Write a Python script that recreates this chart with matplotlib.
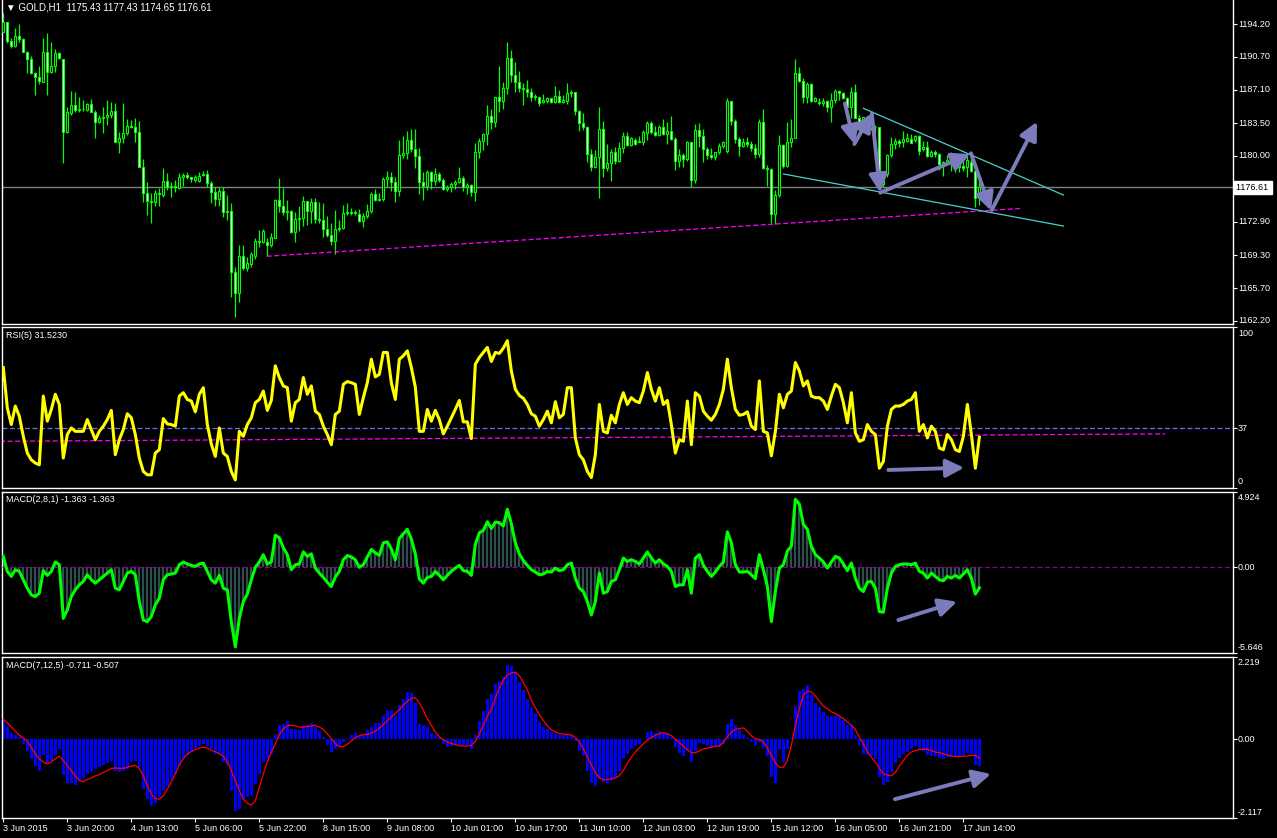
import numpy as np
import matplotlib
matplotlib.use("Agg")
import matplotlib.pyplot as plt

plt.rcParams['font.family'] = ['Liberation Sans', 'DejaVu Sans']

# GOLD H1 candles (open, high, low, close)
opens = [1193.38, 1194.38, 1192.40, 1191.87, 1192.91, 1192.55, 1191.22, 1190.40, 1188.89, 1188.45,
         1187.99, 1191.15, 1189.07, 1189.68, 1191.04, 1190.40, 1182.60, 1184.58, 1185.47, 1184.93,
         1185.04, 1184.93, 1185.54, 1184.75, 1183.68, 1184.11, 1184.22, 1184.40, 1184.83, 1181.52,
         1181.95, 1182.42, 1183.25, 1183.14, 1182.53, 1178.83, 1176.03, 1175.16, 1174.99, 1175.95,
         1175.78, 1177.28, 1176.67, 1176.74, 1176.56, 1177.68, 1177.93, 1177.68, 1177.39, 1177.32,
         1177.93, 1178.04, 1177.10, 1176.13, 1175.34, 1176.24, 1173.98, 1174.05, 1167.51, 1165.25,
         1169.20, 1167.94, 1168.34, 1169.24, 1170.82, 1170.67, 1170.67, 1170.39, 1171.18, 1175.23,
         1174.63, 1173.91, 1174.05, 1171.82, 1173.19, 1173.26, 1175.09, 1174.09, 1175.06, 1173.19,
         1173.12, 1172.11, 1171.46, 1170.86, 1172.08, 1172.26, 1173.80, 1173.94, 1173.80, 1173.69,
         1173.01, 1173.51, 1174.09, 1175.85, 1175.23, 1175.34, 1177.46, 1177.75, 1177.14, 1176.24,
         1180.09, 1180.34, 1181.70, 1180.73, 1180.01, 1177.21, 1176.78, 1178.29, 1177.32, 1178.04,
         1177.39, 1176.38, 1176.67, 1176.96, 1177.21, 1177.57, 1176.67, 1176.82, 1176.06, 1180.37,
         1181.63, 1182.31, 1184.32, 1183.61, 1186.30, 1185.94, 1187.27, 1190.50, 1188.70, 1187.99,
         1187.34, 1187.20, 1186.91, 1186.37, 1186.30, 1185.83, 1185.94, 1186.19, 1185.83, 1186.44,
         1185.83, 1185.90, 1186.73, 1186.84, 1184.83, 1183.50, 1183.14, 1180.19, 1178.83, 1179.83,
         1182.85, 1178.72, 1179.19, 1180.37, 1179.44, 1180.80, 1182.13, 1181.16, 1181.70, 1181.52,
         1181.52, 1182.42, 1183.50, 1182.60, 1182.24, 1183.07, 1182.35, 1182.67, 1181.81, 1179.48,
         1180.09, 1179.62, 1181.45, 1177.39, 1182.78, 1182.17, 1180.73, 1180.09, 1179.83, 1180.37,
         1181.05, 1180.55, 1185.90, 1183.79, 1181.77, 1181.09, 1181.52, 1181.27, 1180.80, 1180.19,
         1183.61, 1178.65, 1178.58, 1173.69, 1175.77, 1181.16, 1178.94, 1181.52, 1181.95, 1188.96,
         1188.10, 1186.37, 1187.70, 1185.94, 1185.83, 1185.65, 1185.94, 1185.22, 1186.01, 1186.98,
         1186.80, 1186.26, 1185.22, 1186.91, 1184.11, 1183.14, 1183.25, 1182.96, 1183.14, 1183.07,
         1176.96, 1178.04, 1180.09, 1181.23, 1181.59, 1181.52, 1181.59, 1181.77, 1181.70, 1182.13,
         1180.73, 1180.98, 1180.01, 1180.44, 1180.19, 1179.12, 1179.12, 1179.44, 1179.19, 1178.83,
         1178.94, 1178.83, 1179.37, 1178.40, 1175.43]
highs = [1195.35, 1194.45, 1192.66, 1193.73, 1194.20, 1192.66, 1191.33, 1190.76, 1189.07, 1189.68,
         1192.66, 1193.20, 1192.30, 1191.47, 1191.22, 1190.45, 1185.30, 1186.98, 1186.84, 1186.37,
         1186.01, 1185.65, 1186.12, 1184.93, 1184.40, 1185.30, 1186.01, 1185.83, 1185.73, 1182.60,
         1185.65, 1183.93, 1183.86, 1184.04, 1183.75, 1179.65, 1177.21, 1176.03, 1176.31, 1176.49,
         1178.65, 1178.18, 1177.21, 1177.39, 1178.11, 1178.11, 1178.29, 1177.75, 1177.93, 1178.29,
         1178.40, 1178.47, 1177.28, 1176.67, 1176.60, 1176.67, 1175.77, 1174.88, 1168.05, 1170.39,
         1170.39, 1169.06, 1169.60, 1171.10, 1172.00, 1172.11, 1171.10, 1171.64, 1175.31, 1177.57,
         1176.56, 1175.23, 1174.16, 1173.91, 1174.59, 1175.67, 1175.13, 1175.42, 1175.42, 1174.98,
         1174.87, 1173.51, 1172.72, 1174.16, 1173.08, 1174.70, 1174.87, 1174.34, 1174.16, 1174.23,
         1173.80, 1174.80, 1176.06, 1176.38, 1175.95, 1177.75, 1178.36, 1178.29, 1177.75, 1181.70,
         1182.13, 1182.67, 1182.85, 1182.85, 1180.80, 1178.29, 1178.47, 1178.40, 1178.65, 1178.29,
         1177.57, 1176.85, 1177.21, 1177.39, 1178.76, 1177.86, 1177.03, 1176.92, 1181.34, 1181.88,
         1182.49, 1185.47, 1185.04, 1186.37, 1189.68, 1187.92, 1192.30, 1191.40, 1190.14, 1189.14,
         1187.88, 1188.17, 1187.27, 1186.62, 1186.37, 1186.62, 1186.37, 1186.26, 1187.52, 1187.09,
         1186.55, 1187.81, 1187.09, 1186.91, 1184.93, 1184.65, 1183.21, 1180.70, 1180.62, 1185.22,
         1183.75, 1181.27, 1180.73, 1180.91, 1181.45, 1182.60, 1182.53, 1182.06, 1181.95, 1182.13,
         1182.78, 1183.79, 1183.75, 1183.21, 1183.32, 1183.96, 1183.68, 1184.29, 1182.06, 1180.70,
         1180.26, 1181.59, 1181.52, 1183.43, 1183.50, 1182.89, 1180.98, 1180.80, 1180.44, 1181.34,
         1181.59, 1186.19, 1185.95, 1183.93, 1182.06, 1181.88, 1181.99, 1181.63, 1181.23, 1183.96,
         1185.04, 1179.01, 1178.72, 1176.31, 1182.24, 1181.27, 1183.61, 1183.96, 1190.40, 1189.60,
         1188.35, 1187.99, 1187.88, 1186.37, 1186.19, 1186.19, 1186.01, 1186.73, 1187.16, 1187.09,
         1186.91, 1186.37, 1187.38, 1187.74, 1184.40, 1184.22, 1183.57, 1184.04, 1183.32, 1183.15,
         1178.11, 1180.19, 1182.06, 1181.88, 1181.77, 1182.71, 1182.49, 1182.35, 1182.24, 1182.24,
         1181.63, 1181.59, 1180.62, 1180.62, 1180.26, 1179.48, 1180.09, 1180.44, 1179.62, 1179.62,
         1179.55, 1180.19, 1180.01, 1178.47, 1177.43]
lows = [1193.38, 1192.12, 1191.58, 1191.76, 1192.30, 1191.15, 1188.96, 1188.81, 1186.55, 1187.70,
        1187.92, 1186.55, 1188.89, 1189.07, 1190.40, 1179.26, 1182.42, 1184.40, 1184.75, 1184.75,
        1184.86, 1184.86, 1184.68, 1181.88, 1183.50, 1182.42, 1183.32, 1184.04, 1181.45, 1180.34,
        1181.34, 1182.24, 1182.96, 1181.52, 1178.75, 1175.06, 1173.62, 1172.79, 1174.63, 1174.63,
        1175.60, 1176.31, 1175.60, 1176.13, 1176.42, 1176.74, 1177.50, 1177.21, 1177.21, 1177.14,
        1177.86, 1176.67, 1174.88, 1174.63, 1174.63, 1173.44, 1173.08, 1164.82, 1162.66, 1164.28,
        1167.69, 1167.62, 1168.05, 1168.88, 1170.21, 1170.56, 1169.20, 1170.21, 1171.10, 1173.91,
        1173.62, 1173.08, 1171.72, 1170.74, 1171.89, 1172.43, 1172.54, 1172.72, 1172.79, 1172.79,
        1171.28, 1171.28, 1170.39, 1169.42, 1171.89, 1172.08, 1173.62, 1173.62, 1173.62, 1172.90,
        1172.36, 1173.26, 1173.80, 1175.13, 1175.13, 1175.13, 1176.67, 1176.24, 1175.06, 1175.67,
        1179.73, 1179.66, 1180.44, 1178.65, 1175.88, 1175.23, 1176.31, 1176.42, 1176.85, 1177.21,
        1176.31, 1176.24, 1176.13, 1176.42, 1177.10, 1176.24, 1175.88, 1175.67, 1175.16, 1179.80,
        1180.62, 1181.16, 1182.89, 1183.07, 1184.75, 1185.01, 1186.66, 1187.99, 1186.91, 1186.91,
        1185.47, 1186.37, 1185.94, 1186.01, 1185.37, 1185.73, 1185.65, 1185.65, 1185.73, 1185.65,
        1185.65, 1185.58, 1186.30, 1184.40, 1182.67, 1182.78, 1179.37, 1178.40, 1178.65, 1175.49,
        1177.75, 1178.36, 1177.32, 1179.12, 1179.35, 1180.34, 1181.05, 1181.09, 1181.20, 1181.45,
        1181.16, 1181.70, 1182.31, 1182.15, 1182.13, 1182.24, 1181.27, 1181.70, 1178.47, 1178.83,
        1178.83, 1179.44, 1176.60, 1177.10, 1180.98, 1179.37, 1179.66, 1179.62, 1179.55, 1180.19,
        1180.80, 1180.34, 1183.32, 1181.41, 1180.01, 1180.98, 1180.98, 1180.55, 1179.73, 1179.91,
        1178.58, 1176.78, 1172.72, 1172.61, 1175.59, 1178.65, 1178.83, 1180.98, 1181.88, 1187.99,
        1185.65, 1185.65, 1185.83, 1185.76, 1185.47, 1185.37, 1184.75, 1183.68, 1185.65, 1186.01,
        1186.12, 1185.11, 1184.04, 1184.05, 1182.42, 1182.78, 1182.42, 1182.78, 1182.42, 1176.67,
        1176.67, 1177.75, 1179.83, 1180.70, 1180.98, 1180.98, 1181.52, 1181.34, 1181.52, 1180.09,
        1180.55, 1179.91, 1179.91, 1179.91, 1178.47, 1177.82, 1179.01, 1178.40, 1178.29, 1178.29,
        1178.40, 1177.75, 1178.29, 1174.52, 1174.65]
closes = [1194.38, 1192.40, 1191.87, 1192.91, 1192.55, 1191.22, 1190.40, 1188.89, 1188.45, 1188.10,
          1191.15, 1189.07, 1189.68, 1191.04, 1190.50, 1182.60, 1184.68, 1185.47, 1184.93, 1185.04,
          1185.00, 1185.54, 1184.75, 1183.68, 1184.11, 1184.22, 1184.40, 1184.83, 1181.52, 1181.95,
          1182.42, 1183.25, 1183.14, 1182.53, 1178.83, 1176.03, 1175.16, 1175.06, 1175.95, 1175.85,
          1177.28, 1176.67, 1176.74, 1176.67, 1177.68, 1177.93, 1177.75, 1177.50, 1177.68, 1177.86,
          1178.04, 1177.10, 1176.13, 1175.34, 1176.24, 1173.98, 1174.05, 1167.51, 1165.25, 1169.20,
          1167.94, 1168.48, 1169.42, 1170.82, 1170.67, 1171.89, 1170.39, 1171.21, 1175.23, 1174.63,
          1173.91, 1174.05, 1171.82, 1173.19, 1173.26, 1175.09, 1174.09, 1175.06, 1173.19, 1173.12,
          1172.11, 1171.46, 1170.86, 1172.08, 1172.26, 1173.80, 1173.94, 1173.80, 1173.94, 1173.01,
          1173.51, 1174.09, 1175.85, 1175.23, 1175.34, 1177.46, 1177.75, 1177.14, 1176.24, 1180.09,
          1180.34, 1181.70, 1180.73, 1180.01, 1177.21, 1176.78, 1178.29, 1177.32, 1178.04, 1177.39,
          1176.38, 1176.67, 1176.96, 1177.21, 1177.57, 1176.67, 1176.82, 1176.06, 1180.37, 1181.63,
          1182.31, 1184.32, 1183.61, 1186.30, 1185.94, 1187.27, 1190.50, 1188.70, 1187.99, 1187.34,
          1187.20, 1186.91, 1186.37, 1186.44, 1185.73, 1186.01, 1186.19, 1185.83, 1186.44, 1185.83,
          1186.01, 1186.73, 1186.84, 1184.83, 1183.50, 1183.14, 1180.19, 1178.83, 1179.83, 1182.85,
          1178.72, 1179.19, 1180.37, 1179.44, 1180.80, 1182.13, 1181.16, 1181.95, 1181.27, 1181.63,
          1182.53, 1183.50, 1182.60, 1182.24, 1183.07, 1182.31, 1182.67, 1181.81, 1179.48, 1180.09,
          1179.62, 1181.52, 1177.39, 1182.78, 1182.17, 1180.73, 1180.09, 1179.83, 1180.37, 1181.05,
          1181.45, 1185.90, 1183.79, 1181.77, 1181.09, 1181.52, 1181.27, 1180.80, 1180.19, 1183.61,
          1178.65, 1178.58, 1173.69, 1175.77, 1181.16, 1178.94, 1181.52, 1181.95, 1188.96, 1188.10,
          1186.37, 1187.70, 1185.94, 1186.19, 1185.65, 1185.94, 1185.22, 1186.01, 1186.98, 1186.80,
          1186.26, 1185.22, 1186.91, 1184.11, 1183.14, 1184.15, 1182.96, 1183.75, 1183.07, 1176.96,
          1178.04, 1180.09, 1181.23, 1181.59, 1181.34, 1181.77, 1181.95, 1181.41, 1182.13, 1180.55,
          1180.98, 1180.01, 1180.44, 1180.19, 1179.12, 1179.37, 1179.55, 1179.19, 1178.65, 1179.01,
          1178.65, 1179.55, 1178.40, 1175.49, 1176.61]

rsi5 = [74.8, 49.8, 39.4, 50.9, 44.6, 32.1, 21.7, 17.5, 15.5, 14.4, 57.1, 41.5, 48.8, 58.2, 51.9,
        18.6, 33.2, 37.3, 35.2, 35.2, 35.2, 42.5, 36.3, 30.0, 35.2, 38.4, 42.5, 48.2, 20.7, 30.0,
        36.3, 46.1, 43.6, 33.2, 18.6, 10.3, 8.2, 8.2, 21.7, 23.8, 43.1, 39.8, 39.4, 38.4, 57.1,
        59.2, 55.0, 54.0, 47.3, 58.2, 62.3, 39.4, 27.3, 19.6, 37.3, 21.7, 19.6, 10.3, 5.0, 35.2,
        32.1, 39.4, 43.6, 53.0, 55.0, 60.2, 48.2, 54.4, 75.9, 68.6, 63.4, 62.3, 41.5, 53.0, 55.0,
        68.6, 58.2, 63.4, 47.7, 45.7, 38.4, 33.2, 26.9, 45.7, 47.7, 64.4, 66.1, 65.4, 64.4, 45.7,
        56.1, 65.4, 80.0, 69.0, 70.6, 84.2, 84.2, 65.4, 55.0, 80.0, 82.1, 85.2, 74.8, 62.7, 35.2,
        35.2, 48.8, 41.5, 48.2, 42.5, 33.6, 38.4, 43.6, 48.8, 54.4, 41.1, 41.1, 30.7, 76.9, 81.1,
        84.2, 87.3, 78.6, 84.2, 83.6, 86.9, 91.5, 72.7, 61.3, 57.5, 55.7, 51.9, 46.1, 44.6, 38.4,
        42.5, 47.7, 40.5, 53.6, 43.6, 45.7, 62.3, 62.3, 31.1, 20.7, 17.5, 10.3, 6.5, 20.7, 51.9,
        35.2, 34.2, 45.2, 40.5, 51.9, 59.2, 51.9, 56.1, 54.0, 53.0, 60.2, 71.7, 61.3, 54.0, 62.3,
        51.9, 54.4, 39.4, 21.7, 30.0, 29.0, 54.0, 26.9, 59.2, 57.1, 47.7, 44.6, 42.1, 45.7, 51.9,
        61.3, 80.0, 62.3, 48.8, 45.2, 45.7, 47.3, 38.4, 36.3, 66.5, 35.2, 34.2, 20.0, 35.2, 58.2,
        49.8, 58.2, 60.2, 77.9, 72.7, 63.4, 66.5, 57.1, 56.1, 56.1, 54.0, 48.8, 57.1, 64.4, 62.3,
        53.0, 40.5, 59.2, 34.2, 29.0, 30.0, 39.4, 35.2, 33.2, 12.3, 16.5, 38.4, 48.8, 50.9, 50.9,
        51.9, 54.0, 55.0, 59.2, 35.2, 39.4, 31.1, 38.4, 35.2, 24.8, 23.8, 33.2, 30.0, 23.8, 22.7,
        32.1, 51.9, 33.2, 12.3, 31.52]

# MACD(2,8,1): main and signal are the same line
macd_fast = [0.70, -0.29, -0.62, -0.18, -0.29, -0.84, -1.39, -1.83, -1.94, -1.72, -0.24, -0.55, -0.29,
             0.33, 0.15, -3.37, -2.82, -1.94, -1.50, -1.17, -0.95, -0.51, -0.84, -1.06, -0.84, -0.62,
             -0.40, -0.18, -1.39, -1.50, -0.95, -0.40, -0.29, -0.51, -2.27, -3.48, -3.59, -3.26, -2.49,
             -2.05, -0.84, -0.51, -0.46, -0.40, 0.15, 0.33, 0.20, 0.11, 0.04, 0.20, 0.26, -0.29, -0.84,
             -1.06, -0.55, -1.39, -1.50, -3.59, -5.24, -3.37, -2.27, -1.78, -0.84, -0.02, 0.33, 0.81,
             0.20, 0.33, 2.09, 1.92, 1.26, 0.81, -0.18, 0.15, 0.20, 0.99, 0.70, 0.86, -0.07, -0.40,
             -0.68, -1.01, -1.28, -0.66, -0.29, 0.48, 0.75, 0.66, 0.48, -0.02, 0.15, 0.66, 1.15, 0.93,
             0.77, 1.59, 1.65, 1.19, 0.48, 1.87, 2.18, 2.47, 1.85, 0.86, -0.79, -1.06, -0.68, -0.62,
             -0.29, -0.55, -0.84, -0.55, -0.29, -0.07, 0.11, -0.24, -0.29, -0.55, 1.48, 2.25, 2.40,
             2.97, 2.53, 2.95, 2.91, 2.69, 3.79, 2.84, 1.59, 0.86, 0.42, 0.11, -0.18, -0.33, -0.51,
             -0.46, -0.29, -0.33, -0.07, -0.24, -0.18, 0.15, 0.26, -0.73, -1.39, -1.61, -2.27, -3.15,
             -2.27, -0.40, -1.72, -1.61, -0.95, -0.84, -0.18, 0.59, 0.37, 0.48, 0.37, 0.20, 0.59, 0.99,
             0.59, 0.26, 0.48, 0.20, 0.04, -0.29, -1.28, -1.17, -1.17, -0.18, -1.72, 0.59, 0.81, 0.11,
             -0.29, -0.62, -0.33, 0.04, 0.33, 2.31, 1.59, 0.15, -0.33, -0.33, -0.29, -0.51, -0.77,
             0.81, -0.18, -1.28, -3.59, -1.61, -0.07, 0.15, 1.04, 1.37, 4.45, 4.12, 2.80, 2.47, 1.37,
             0.81, 0.59, 0.33, -0.07, 0.33, 0.70, 0.59, 0.20, -0.24, 0.26, -0.73, -1.39, -1.61, -0.99,
             -0.95, -1.39, -2.93, -2.97, -1.39, -0.40, 0.04, 0.15, 0.20, 0.20, 0.15, 0.26, -0.29,
             -0.40, -0.73, -0.40, -0.62, -0.84, -0.90, -0.62, -0.73, -0.55, -0.73, -0.46, -0.18,
             -0.73, -1.78, -1.363]

# MACD(7,12,5) histogram and signal
macd_hist = [0.56, 0.33, 0.18, 0.13, 0.06, -0.12, -0.30, -0.54, -0.72, -0.84, -0.43, -0.66, -0.57,
             -0.42, -0.27, -0.96, -1.17, -1.17, -1.23, -1.11, -1.05, -0.93, -0.89, -0.81, -0.75,
             -0.69, -0.63, -0.57, -0.84, -0.89, -0.84, -0.79, -0.61, -0.57, -0.75, -1.34, -1.61,
             -1.79, -1.70, -1.56, -1.38, -1.25, -1.08, -0.93, -0.72, -0.52, -0.43, -0.34, -0.23,
             -0.18, -0.12, -0.18, -0.25, -0.39, -0.39, -0.61, -0.70, -1.38, -1.92, -1.88, -1.61,
             -1.56, -1.52, -1.20, -0.93, -0.61, -0.52, -0.39, 0.11, 0.38, 0.42, 0.49, 0.27, 0.27,
             0.24, 0.40, 0.40, 0.45, 0.33, 0.22, 0.06, -0.14, -0.33, -0.27, -0.18, -0.07, 0.04, 0.13,
             0.18, 0.13, 0.13, 0.24, 0.33, 0.44, 0.44, 0.63, 0.79, 0.79, 0.65, 0.92, 1.08, 1.28, 1.26,
             0.97, 0.42, 0.40, 0.33, 0.18, 0.13, 0.06, -0.12, -0.21, -0.18, -0.14, -0.14, -0.14,
             -0.14, -0.25, 0.13, 0.49, 0.76, 1.10, 1.21, 1.48, 1.57, 1.69, 2.01, 1.99, 1.81, 1.54,
             1.33, 1.10, 0.88, 0.70, 0.47, 0.33, 0.27, 0.20, 0.15, 0.11, 0.11, 0.15, 0.13, -0.05,
             -0.30, -0.45, -0.84, -1.17, -1.26, -1.07, -1.16, -1.17, -1.11, -1.05, -0.84, -0.52,
             -0.39, -0.27, -0.18, -0.12, 0.00, 0.20, 0.22, 0.18, 0.22, 0.18, 0.15, 0.06, -0.21,
             -0.36, -0.45, -0.30, -0.61, -0.30, -0.09, -0.12, -0.18, -0.23, -0.21, -0.18, -0.12,
             0.42, 0.54, 0.38, 0.24, 0.13, 0.04, -0.07, -0.18, -0.07, -0.23, -0.45, -1.02, -1.17,
             -0.25, -0.60, -0.25, 0.04, 0.90, 1.30, 1.37, 1.46, 1.19, 0.99, 0.88, 0.74, 0.63, 0.63,
             0.63, 0.61, 0.51, 0.38, 0.38, 0.13, -0.14, -0.39, -0.43, -0.45, -0.52, -1.02, -1.23,
             -1.14, -0.87, -0.63, -0.51, -0.39, -0.33, -0.25, -0.18, -0.25, -0.30, -0.42, -0.45,
             -0.45, -0.51, -0.52, -0.48, -0.48, -0.45, -0.45, -0.42, -0.36, -0.39, -0.69, -0.711]
macd_signal = [0.54, 0.45, 0.33, 0.22, 0.11, 0.04, -0.05, -0.23, -0.39, -0.52, -0.61, -0.66, -0.61,
               -0.52, -0.45, -0.57, -0.70, -0.84, -0.98, -1.11, -1.14, -1.08, -1.04, -0.98, -0.95,
               -0.89, -0.84, -0.78, -0.77, -0.78, -0.78, -0.75, -0.72, -0.70, -0.78, -0.98, -1.25,
               -1.47, -1.59, -1.61, -1.52, -1.34, -1.14, -0.93, -0.69, -0.51, -0.39, -0.33, -0.27,
               -0.23, -0.21, -0.23, -0.30, -0.33, -0.39, -0.45, -0.61, -0.84, -1.11, -1.38, -1.61,
               -1.72, -1.77, -1.65, -1.29, -0.93, -0.61, -0.34, -0.12, 0.13, 0.29, 0.36, 0.38, 0.36,
               0.33, 0.33, 0.35, 0.36, 0.38, 0.33, 0.27, 0.15, 0.02, -0.12, -0.20, -0.19, -0.13,
               -0.04, 0.04, 0.10, 0.13, 0.14, 0.17, 0.22, 0.30, 0.40, 0.51, 0.61, 0.70, 0.80, 0.92,
               1.03, 1.10, 1.12, 0.98, 0.79, 0.56, 0.38, 0.20, 0.07, -0.01, -0.07, -0.11, -0.14,
               -0.17, -0.18, -0.18, -0.16, -0.05, 0.15, 0.38, 0.63, 0.80, 1.11, 1.39, 1.60, 1.73,
               1.79, 1.81, 1.71, 1.54, 1.33, 1.06, 0.85, 0.67, 0.51, 0.36, 0.26, 0.20, 0.16, 0.14,
               0.13, 0.12, 0.05, -0.07, -0.25, -0.48, -0.69, -0.89, -1.03, -1.09, -1.08, -1.06,
               -1.04, -0.98, -0.84, -0.64, -0.48, -0.34, -0.22, -0.12, -0.02, 0.05, 0.11, 0.16, 0.18,
               0.15, 0.10, 0.01, -0.09, -0.18, -0.28, -0.36, -0.36, -0.31, -0.26, -0.23, -0.21,
               -0.18, -0.18, -0.07, 0.06, 0.20, 0.27, 0.29, 0.31, 0.22, 0.09, 0.02, 0.00, -0.07,
               -0.23, -0.43, -0.63, -0.75, -0.75, -0.57, -0.16, 0.38, 0.83, 1.19, 1.30, 1.28, 1.17,
               1.03, 0.90, 0.83, 0.74, 0.70, 0.63, 0.56, 0.47, 0.38, 0.27, 0.06, -0.12, -0.34, -0.48,
               -0.61, -0.78, -0.93, -0.96, -0.98, -0.89, -0.72, -0.57, -0.43, -0.34, -0.30, -0.27,
               -0.27, -0.27, -0.30, -0.34, -0.36, -0.39, -0.42, -0.45, -0.46, -0.46, -0.45, -0.45,
               -0.43, -0.43, -0.507]

date_labels = ["3 Jun 2015", "3 Jun 20:00", "4 Jun 13:00", "5 Jun 06:00", "5 Jun 22:00",
               "8 Jun 15:00", "9 Jun 08:00", "10 Jun 01:00", "10 Jun 17:00", "11 Jun 10:00",
               "12 Jun 03:00", "12 Jun 19:00", "15 Jun 12:00", "16 Jun 05:00", "16 Jun 21:00",
               "17 Jun 14:00"]
price_ticks = [1194.20, 1190.70, 1187.10, 1183.50, 1180.00, 1172.90, 1169.30, 1165.70, 1162.20]
last_price = 1176.61

# hand drawn objects on the chart (bar index, value)
support_line = [(65.85, 1169.17), (254.2, 1174.32)]
wedge_upper = [(215.0, 1185.12), (265.0, 1175.77)]
wedge_lower = [(195.0, 1178.04), (265.0, 1172.43)]
price_arrows = [((210.4, 1185.65), (212.75, 1181.27)),
                ((212.75, 1181.27), (217.1, 1184.58)),
                ((217.1, 1184.58), (219.2, 1176.02)),
                ((219.2, 1176.02), (241.7, 1180.19)),
                ((241.9, 1180.27), (246.9, 1174.08)),
                ((247.1, 1174.16), (258.4, 1183.67))]
rsi_arrow = ((221.25, 11.2), (240.2, 12.6))
rsi_trend = [(-0.8, 29.0), (290.4, 33.6)]
macd_fast_arrow = ((223.75, -3.48), (238.4, -2.28))
macd_slow_arrow = ((222.9, -1.61), (246.9, -0.93))

W, H = 1277, 838
fig = plt.figure(figsize=(W / 100, H / 100), dpi=100, facecolor='black')


def panel(top, bottom):
    ax = fig.add_axes([2 / W, 1 - bottom / H, 1231 / W, (bottom - top) / H])
    ax.set_facecolor('black')
    for s in ax.spines.values():
        s.set_color('white')
        s.set_linewidth(1)
    ax.set_xlim(-0.325, 307.4)
    ax.tick_params(axis='y', left=False, right=True, labelleft=False, labelright=False,
                   direction='out', length=3, width=0.8, color='white')
    ax.tick_params(axis='x', bottom=False, labelbottom=False)
    return ax


def right_label(ax, y, s, va='center'):
    ax.text(1 + 5 / 1231, y, s, transform=ax.get_yaxis_transform(), color='white',
            fontsize=6.5, ha='left', va=va)


def draw_arrow(ax, start, end):
    ax.annotate('', xy=end, xytext=start, zorder=5,
                arrowprops=dict(arrowstyle='-|>,head_length=0.9,head_width=0.45', lw=2.8,
                                color='#7c7cbc', shrinkA=0, shrinkB=0, mutation_scale=12))


ax = panel(0, 324)
ax_rsi = panel(327, 488)
ax_m1 = panel(492, 653)
ax_m2 = panel(657, 818)
ax.spines['top'].set_visible(False)

x = np.arange(len(closes))
o = np.array(opens)
c = np.array(closes)

# price candles
ax.vlines(x, lows, highs, color='#00ff00', lw=0.9, zorder=2)
fills = ['white' if cc < oo else 'black' for oo, cc in zip(o, c)]
ax.bar(x, np.abs(c - o), bottom=np.minimum(o, c), width=0.5, color=fills,
       edgecolor='#00ff00', linewidth=0.8, zorder=3)
ax.axhline(last_price, color='#808080', lw=1, zorder=1)
ax.plot(*zip(*support_line), color='#ff00ff', lw=0.9, ls=(0, (4, 2)), zorder=4)
ax.plot(*zip(*wedge_upper), color='#48d1cc', lw=0.9, zorder=4)
ax.plot(*zip(*wedge_lower), color='#48d1cc', lw=0.9, zorder=4)
for a, b in price_arrows:
    draw_arrow(ax, a, b)
ax.set_ylim(1161.87, 1196.79)
ax.set_yticks(price_ticks)
for v in price_ticks:
    right_label(ax, v, f"{v:.2f}")
ax.text(1 + 3 / 1231, last_price, f"{last_price:.2f} ", transform=ax.get_yaxis_transform(),
        color='black', fontsize=6.5, ha='left', va='center',
        bbox=dict(boxstyle='square,pad=0.2', fc='white', ec='white'))

# RSI
ax_rsi.plot(x, rsi5, color='#ffff00', lw=2.2, zorder=3)
ax_rsi.axhline(37, color='#6b6bff', lw=0.9, ls=(0, (4, 2)), zorder=2)
ax_rsi.plot(*zip(*rsi_trend), color='#ff00ff', lw=0.9, ls=(0, (4, 2)), zorder=2)
draw_arrow(ax_rsi, *rsi_arrow)
ax_rsi.set_ylim(0, 100)
ax_rsi.set_yticks([0, 37, 100])
right_label(ax_rsi, 99, "100", va='top')
right_label(ax_rsi, 37, "37")
right_label(ax_rsi, 1, "0", va='bottom')

# MACD(2,8,1)
ax_m1.vlines(x, 0, macd_fast, color='#2f4f4f', lw=1.6, zorder=2)
ax_m1.axhline(0, color='#8b008b', lw=0.9, ls=(0, (4, 2)), zorder=3)
ax_m1.plot(x, macd_fast, color='#00ff00', lw=2.2, zorder=4)
draw_arrow(ax_m1, *macd_fast_arrow)
ax_m1.set_ylim(-5.646, 4.924)
ax_m1.set_yticks([-5.646, 0, 4.924])
right_label(ax_m1, 4.85, "4.924", va='top')
right_label(ax_m1, 0, "0.00")
right_label(ax_m1, -5.58, "-5.646", va='bottom')

# MACD(7,12,5)
ax_m2.bar(x, macd_hist, width=0.75, color='#0000ff', linewidth=0, zorder=2)
ax_m2.plot(x, macd_signal, color='#ff0000', lw=0.9, zorder=3)
draw_arrow(ax_m2, *macd_slow_arrow)
ax_m2.set_ylim(-2.117, 2.219)
ax_m2.set_yticks([-2.117, 0, 2.219])
right_label(ax_m2, 2.19, "2.219", va='top')
right_label(ax_m2, 0, "0.00")
right_label(ax_m2, -2.09, "-2.117", va='bottom')

ax_m2.set_xticks(np.arange(0, len(closes), 16))
ax_m2.set_xticklabels(date_labels)
ax_m2.tick_params(axis='x', bottom=True, labelbottom=True, direction='out', length=3,
                  width=0.8, color='white', labelcolor='white', labelsize=6.5, pad=1.5)
for lab in ax_m2.get_xticklabels():
    lab.set_ha('left')

# window captions
fig.text(6 / W, 1 - 8 / H, "\u25bc GOLD,H1  1175.43 1177.43 1174.65 1176.61", color='white',
         fontsize=7, va='center', ha='left')
fig.text(6 / W, 1 - 335 / H, "RSI(5) 31.5230", color='white', fontsize=6.5, va='center')
fig.text(6 / W, 1 - 500 / H, "MACD(2,8,1) -1.363 -1.363", color='white', fontsize=6.5, va='center')
fig.text(6 / W, 1 - 665 / H, "MACD(7,12,5) -0.711 -0.507", color='white', fontsize=6.5, va='center')

fig.savefig("out.png", dpi=100, facecolor='black')
